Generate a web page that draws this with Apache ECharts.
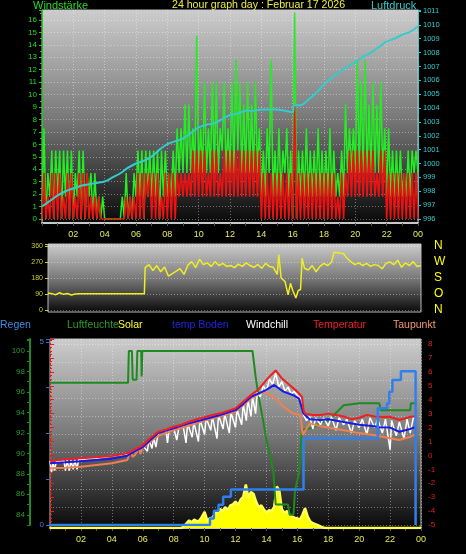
<!DOCTYPE html>
<html><head><meta charset="utf-8">
<script src="https://cdn.jsdelivr.net/npm/echarts@6/dist/echarts.min.js"></script>
<style>html,body{margin:0;padding:0;background:#000;}#c{width:466px;height:554px;}</style>
</head><body><div id="c"></div>
<script>
// ---------- Panel 1: wind (15-minute slots, max / min read per slot) ----------
const SLOT = 0.25;
const windGustHi = [7.3,3.7,5.5,5.5, 5.5,5.5,5.5,5.5, 3.7,5.5,5.5,3.7, 3.7,3.7,1.8,1.8, 0,0,0,0, 1.8,3.7,1.8,3.7,
  5.5,5.5,5.5,5.5, 5.5,5.5,5.5,5.5, 3.7,5.5,7.3,7.3, 9.2,9.2,7.3,14.7, 7.3,11,7.3,11, 11,7.3,11,7.3,
  11,12.8,11,9.2, 11,9.2,11,7.3, 5.5,7.3,12.8,5.5, 7.3,5.5,7.3,5.5, 16.6,5.5,5.5,7.3, 5.5,5.5,7.3,5.5,
  5.5,7.3,5.5,3.7, 5.5,9.2,7.3,7.3, 12.8,11,12.8,9.2, 11,9.2,11,7.3, 7.3,5.5,5.5,5.5, 3.7,5.5,5.5,5.5];
const windGustLo = [0,0,1.8,0, 1.8,0,1.8,0, 0,1.8,0,0, 1.8,0,0,0, 0,0,0,0, 0,0,0,0,
  1.8,1.8,0,1.8, 1.8,1.8,0,1.8, 1.8,1.8,1.8,3.7, 3.7,3.7,3.7,3.7, 3.7,3.7,3.7,3.7, 3.7,3.7,5.5,3.7,
  3.7,3.7,5.5,3.7, 3.7,3.7,3.7,3.7, 1.8,1.8,3.7,1.8, 1.8,1.8,3.7,1.8, 0,0,1.8,1.8, 1.8,1.8,1.8,1.8,
  1.8,1.8,1.8,1.8, 1.8,1.8,3.7,3.7, 3.7,3.7,3.7,3.7, 3.7,3.7,3.7,3.7, 1.8,1.8,1.8,1.8, 1.8,1.8,1.8,3.7];
const windAvgHi = [3.7,1.8,3.7,3.7, 3.7,1.8,3.7,3.7, 1.8,3.7,3.7,3.7, 1.8,1.8,1.8,0, 0,0,0,0, 0,1.8,1.8,1.8,
  3.7,3.7,3.7,3.7, 3.7,3.7,1.8,3.7, 3.7,3.7,3.7,3.7, 3.7,3.7,5.5,5.5, 5.5,5.5,3.7,5.5, 5.5,3.7,5.5,5.5,
  5.5,5.5,5.5,5.5, 5.5,5.5,5.5,5.5, 3.7,3.7,3.7,3.7, 3.7,3.7,3.7,3.7, 9.2,3.7,3.7,3.7, 3.7,3.7,3.7,3.7,
  3.7,3.7,3.7,1.8, 3.7,3.7,5.5,5.5, 5.5,5.5,5.5,5.5, 5.5,3.7,5.5,5.5, 3.7,3.7,3.7,3.7, 3.7,3.7,3.7,3.7];
const windAvgLo = [0,0,0,0, 0,0,0,0, 0,0,0,0, 0,0,0,0, 0,0,0,0, 0,0,0,0,
  0,0,0,1.8, 0,0,0,0, 0,0,0,1.8, 1.8,1.8,1.8,1.8, 1.8,1.8,1.8,1.8, 1.8,1.8,1.8,1.8,
  1.8,1.8,1.8,1.8, 1.8,1.8,1.8,1.8, 0,0,0,0, 0,0,0,0, 0,0,0,0, 0,0,0,0,
  0,0,0,0, 0,0,1.8,1.8, 1.8,1.8,1.8,1.8, 1.8,1.8,1.8,1.8, 0,0,0,0, 0,0,0,0];
const pressure = [[0,996.9],[0.5,997.3],[1,997.7],[1.5,998.0],[2,998.2],[2.5,998.4],[3,998.5],[3.5,998.6],[4,998.7],
  [4.5,999.0],[5,999.3],[5.5,999.7],[6,1000.0],[6.5,1000.2],[7,1000.5],[7.5,1001.0],[8,1001.4],[8.5,1001.6],
  [9,1001.8],[9.5,1002.2],[10,1002.6],[10.5,1002.8],[11,1002.9],[11.5,1003.2],[12,1003.5],[12.5,1003.6],
  [13,1003.8],[13.5,1003.8],[14,1003.9],[14.5,1003.9],[15,1003.9],[15.5,1003.8],[16,1003.7],[16.1,1004.2],
  [16.5,1004.2],[17,1004.6],[17.5,1005.1],[18,1005.7],[18.5,1006.2],[19,1006.6],[19.5,1007.0],[20,1007.3],
  [20.5,1007.7],[21,1008.0],[21.5,1008.4],[22,1008.8],[22.5,1009.0],[23,1009.3],[23.5,1009.5],[24,1009.9]];

// ---------- Panel 2: wind direction ----------
const windDirection = [[0,95],[0.25,92],[0.5,86],[0.75,97],[1,88],[1.25,93],[1.5,84],[1.75,90],[2,92],[6.2,92],
  [6.25,238],[6.5,255],[6.75,222],[7,250],[7.25,215],[7.5,242],[7.75,190],[8,205],[8.25,218],[8.5,232],[8.75,200],
  [9,252],[9.25,272],[9.5,238],[9.75,285],[10,255],[10.25,265],[10.5,245],[10.75,272],[11,250],[11.25,262],
  [11.5,245],[11.75,250],[12,238],[12.25,258],[12.5,245],[12.75,265],[13,250],[13.25,240],[13.5,256],[13.75,235],
  [14,262],[14.25,245],[14.5,240],[14.75,200],[14.85,312],[15,180],[15.25,160],[15.45,85],[15.6,150],[15.75,110],
  [15.95,68],[16.1,110],[16.25,115],[16.35,292],[16.5,235],[16.75,225],[17,250],[17.25,215],[17.5,245],[17.75,262],
  [18,250],[18.25,270],[18.4,325],[18.5,332],[18.75,320],[19,318],[19.25,290],[19.5,270],[19.75,255],[20,265],
  [20.25,250],[20.5,262],[20.75,245],[21,255],[21.25,250],[21.5,232],[21.75,262],[22,270],[22.25,255],[22.5,280],
  [22.75,240],[23,265],[23.25,250],[23.5,272],[23.75,245],[24,250]];
const dirLabels = {0:'N', 90:'O', 180:'S', 270:'W', 360:'N'};

// ---------- Panel 3 ----------
const temperature = [[0,-0.4],[1,-0.28],[2,-0.21],[3,-0.14],[4,-0.04],[5,0.15],[5.5,0.44],[6,0.75],[6.5,1.27],[7,1.7],
  [7.5,1.85],[8,2.06],[8.5,2.2],[9,2.42],[9.5,2.6],[10,2.74],[10.5,2.9],[11,3.02],[11.5,3.2],[12,3.38],[12.5,3.86],
  [13,4.34],[13.5,4.75],[14,5.42],[14.3,5.78],[14.6,6.1],[15,5.54],[15.5,5.06],[16,4.58],[16.3,4.2],[16.4,3.26],
  [16.5,3.0],[17,2.9],[17.5,2.9],[18,3.0],[18.5,2.9],[19,2.8],[19.5,2.6],[20,2.7],[20.5,2.9],[21,2.8],[21.5,2.75],
  [22,2.78],[22.6,2.54],[23.3,2.78],[23.6,2.8]];
const dewPoint = [[0,-0.93],[1,-0.88],[2,-0.81],[3,-0.69],[4,-0.57],[5,-0.33],[5.2,0.3],[5.35,-0.1],[5.5,0.03],
  [5.75,0.6],[5.85,0.1],[6,0.55],[6.5,1.0],[7,1.4],[8,1.8],[9,2.15],[10,2.5],[11,2.8],[12,3.15],[12.5,3.6],
  [13,4.1],[13.5,4.4],[13.9,4.58],[14.6,4.1],[15.1,3.5],[15.7,3.02],[16.2,2.9],[16.35,1.47],[16.8,2.3],[17.5,2.1],
  [18,2.0],[19,1.8],[20,1.6],[21,1.45],[21.5,1.34],[22.6,1.1],[23.3,1.34],[23.6,1.47]];
const soilTemp = [[0,-0.57],[1,-0.5],[2,-0.42],[3,-0.33],[4,-0.24],[5,-0.02],[5.5,0.3],[6,0.6],[7,1.6],[8,1.95],
  [9,2.3],[10,2.6],[11,2.9],[12,3.25],[12.5,3.7],[13,4.2],[13.5,4.45],[14,4.7],[14.5,5.06],[15.1,4.58],[15.7,4.34],
  [16.1,4.1],[16.4,3.0],[16.8,2.6],[17.5,2.55],[18,2.6],[19,2.4],[20,2.2],[21,2.1],[21.3,2.02],[22,2.0],[22.6,1.7],
  [23.3,1.9],[23.6,2.02]];
const windChill = [[0,-0.4],[0.1,-1.2],[0.2,-0.5],[0.3,-1.1],[0.4,-0.45],[0.9,-0.4],[1,-1.1],[1.1,-0.35],[1.25,-1.1],
  [1.35,-0.35],[1.5,-1.0],[1.6,-0.3],[1.75,-1.0],[1.85,-0.3],[3,-0.2],[5,0.1],[6,0.7],[6.3,0.3],[6.4,1.1],[6.6,0.5],
  [6.7,1.3],[6.85,0.6],[7,1.6],[7.5,1.8],[7.6,0.9],[7.7,1.8],[8,2.0],[8.2,1.1],[8.35,2.1],[8.6,2.2],[8.8,0.9],
  [8.9,2.3],[9.2,1.3],[9.3,2.4],[9.6,1.0],[9.7,2.6],[10,1.5],[10.1,2.7],[10.4,1.8],[10.5,2.8],[10.8,1.2],[10.9,2.9],
  [11.2,1.9],[11.3,3.0],[11.6,1.6],[11.7,3.1],[12,2.0],[12.1,3.3],[12.4,2.2],[12.5,3.7],[12.7,2.5],[12.8,4.0],
  [13,2.8],[13.1,4.2],[13.3,3.0],[13.4,4.5],[13.6,4.2],[13.8,5.0],[14,4.6],[14.2,5.5],[14.4,5.1],[14.6,5.9],
  [14.8,4.9],[15,5.3],[15.2,4.6],[15.4,4.9],[15.6,4.4],[15.8,4.6],[16,4.3],[16.3,4.0],[16.4,2.9],[16.6,2.5],
  [16.8,2.8],[17,1.9],[17.2,2.7],[17.5,2.2],[17.7,2.7],[18,2.1],[18.2,2.8],[18.5,1.8],[18.7,2.7],[19,2.2],[19.2,2.6],
  [19.5,1.6],[19.7,2.5],[20,2.0],[20.2,2.6],[20.5,1.5],[20.7,2.7],[21,2.0],[21.2,2.6],[21.5,1.6],[21.7,2.6],
  [22,0.4],[22.1,2.5],[22.4,1.4],[22.6,2.4],[22.9,1.2],[23.1,2.6],[23.3,1.6],[23.5,2.7],[23.6,2.7]];
const humidity = [[0,96.9],[5.05,96.9],[5.1,100],[5.3,100],[5.35,97.2],[5.6,97.2],[5.65,100],[5.9,100],[5.93,97.5],
  [5.97,100],[13.1,100],[13.3,97.5],[13.5,95.5],[13.75,93.5],[14,91.3],[14.3,89.4],[14.45,88.1],[14.6,85],[15.4,85],
  [15.5,84],[15.75,84],[15.85,86.4],[16.1,88],[16.3,92.3],[17,92.5],[17.5,93],[18,93.2],[19,94.7],[20,94.9],
  [21.3,94.9],[21.4,94.2],[23.3,94.2],[23.35,94.9],[23.7,94.9]];
const rain = [[0,0],[10.35,0],[10.35,0.18],[10.6,0.18],[10.6,0.39],[10.9,0.39],[10.9,0.55],[11.2,0.55],[11.2,0.77],
  [11.7,0.77],[11.7,0.97],[16.4,0.97],[16.4,2.37],[21.2,2.37],[21.2,3.19],[21.8,3.19],[21.8,3.32],[21.95,3.32],
  [21.95,3.64],[22.15,3.64],[22.15,3.96],[22.7,3.96],[22.7,4.2],[23.65,4.2],[23.65,0]];
const solar = [[0,0],[8.5,0],[8.67,10],[8.83,25],[9,40],[9.17,30],[9.33,45],[9.5,35],[9.67,40],[9.83,60],[10,85],
  [10.17,40],[10.33,50],[10.5,55],[10.67,75],[10.83,85],[11,100],[11.17,90],[11.33,110],[11.5,95],[11.67,120],
  [11.83,125],[12,140],[12.17,120],[12.33,150],[12.5,165],[12.67,230],[12.83,160],[13,190],[13.17,180],[13.33,140],
  [13.5,110],[13.67,120],[13.83,100],[14,80],[14.17,95],[14.33,90],[14.5,110],[14.67,220],[14.83,200],[15,100],
  [15.17,80],[15.33,90],[15.5,70],[15.67,60],[15.83,55],[16,50],[16.17,45],[16.33,70],[16.5,105],[16.67,60],
  [16.83,35],[17,25],[17.17,20],[17.33,15],[17.5,8],[17.67,3],[17.83,0],[24,0]];

const legendRow = [
  {text:'Regen', x:0, color:'#3a8ee6'},
  {text:'Luftfeuchte', x:67, color:'#2a9a2a'},
  {text:'Solar', x:118, color:'#ffff33'},
  {text:'temp Boden', x:172, color:'#2222dd'},
  {text:'Windchill', x:246, color:'#ffffff'},
  {text:'Temperatur', x:313, color:'#ee2222'},
  {text:'Taupunkt', x:393, color:'#f49a6a'}
];

// ---------- helpers ----------
function zig(hi, lo) {
  const out = [];
  for (let i = 0; i < hi.length; i++) {
    const t = i * SLOT;
    out.push([t, lo[i]]);
    out.push([t + SLOT / 2, hi[i]]);
  }
  out.push([24, lo[lo.length - 1]]);
  return out;
}
const FONT = 'Liberation Sans';
const grad = () => ({type:'linear', x:0, y:0, x2:0, y2:1,
  colorStops:[{offset:0,color:'#cdcdcd'},{offset:0.5,color:'#7a7a7a'},{offset:1,color:'#080808'}]});
const dotted = {show:true, lineStyle:{color:'rgba(255,255,255,0.38)', type:[1,2], width:1}};
const isInt = v => Math.abs(v - Math.round(v)) < 1e-6;
const hourFmt = v => (v === 0 ? '' : String(Math.round(v) % 24).padStart(2, '0'));
const hidden = {show:false};

const grids = [
  {left:42, top:10, width:376, height:213, show:true, backgroundColor:grad(), borderColor:'#bbbbbb', borderWidth:1},
  {left:42, top:10, width:376, height:209},
  {left:48, top:244, width:373, height:68, show:true, backgroundColor:grad(), borderColor:'#bbbbbb', borderWidth:1},
  {left:48, top:244, width:373, height:66},
  {left:50, top:339, width:371, height:189, show:true, backgroundColor:grad(), borderColor:'#bbbbbb', borderWidth:1},
  {left:50, top:339, width:371, height:186}
];

function xAx(gi, labels, split) {
  return {gridIndex:gi, type:'value', min:0, max:24, interval:2,
    axisLine:{show:labels, lineStyle:{color:'#c8c8c8', width:2}},
    axisTick:{show:labels, length:3, lineStyle:{color:'#555'}},
    minorTick:{show:labels, splitNumber:2, length:3, lineStyle:{color:'#555'}},
    axisLabel:{show:labels, color:'#e8e85a', fontSize:9, fontFamily:FONT, margin:7, formatter:hourFmt},
    splitLine: split ? dotted : hidden};
}

const option = {
  backgroundColor:'#000',
  animation:false,
  title: [
    {text:'Windstärke', left:33, top:0, padding:0, textStyle:{color:'#22dd22', fontSize:11, fontWeight:'normal', fontFamily:FONT}},
    {text:'24 hour graph day : Februar 17 2026', left:172, top:0, padding:0, textStyle:{color:'#eeee44', fontSize:10.6, fontWeight:'normal', fontFamily:FONT}},
    {text:'Luftdruck', left:371, top:0, padding:0, textStyle:{color:'#33cccc', fontSize:11, fontWeight:'normal', fontFamily:FONT}}
  ].concat(legendRow.map(l => ({text:l.text, left:l.x, top:320, padding:0,
    textStyle:{color:l.color, fontSize:10.5, fontWeight:'normal', fontFamily:FONT}}))),
  grid: grids,
  xAxis: [xAx(0,true,true), xAx(1,false,false), xAx(2,false,false), xAx(3,false,false), xAx(4,true,true), xAx(5,false,false)],
  yAxis: [
    {gridIndex:0, type:'value', min:0, max:1, show:false},
    {gridIndex:1, type:'value', min:0, max:16.8, interval:1, position:'left', offset:1,
      axisLine:{show:true, lineStyle:{color:'#22cc22'}},
      axisTick:{show:true, length:3, lineStyle:{color:'#22cc22'}},
      minorTick:{show:true, splitNumber:2, length:2, lineStyle:{color:'#22cc22'}},
      axisLabel:{color:'#22dd22', fontSize:8, fontFamily:FONT, margin:4, formatter:v => isInt(v) ? Math.round(v) : ''},
      splitLine:dotted},
    {gridIndex:1, type:'value', min:996, max:1011.07, interval:1, position:'right',
      axisLine:{show:true, lineStyle:{color:'#33cccc'}},
      axisTick:{show:true, length:3, lineStyle:{color:'#33cccc'}},
      axisLabel:{color:'#33cccc', fontSize:7.5, fontFamily:FONT, margin:5, formatter:v => isInt(v) ? Math.round(v) : ''},
      splitLine:hidden},
    {gridIndex:2, type:'value', min:0, max:1, show:false},
    {gridIndex:3, type:'value', min:0, max:371, interval:90, position:'left',
      axisLine:{show:false},
      axisTick:{show:true, length:3, lineStyle:{color:'#cccc33'}},
      axisLabel:{color:'#cccc33', fontSize:7, fontFamily:FONT, margin:5, formatter:v => (v % 90 === 0 ? v : '')},
      splitLine:dotted},
    {gridIndex:3, type:'value', min:0, max:371, interval:90, position:'right',
      axisLine:{show:false}, axisTick:{show:false}, splitLine:hidden,
      axisLabel:{color:'#ffff00', fontSize:12, fontFamily:FONT, margin:13, formatter:v => dirLabels[v] || ''}},
    {gridIndex:4, type:'value', min:0, max:1000, show:false},
    {gridIndex:5, type:'value', min:-5, max:8.36, interval:1, position:'right',
      axisLine:{show:true, lineStyle:{color:'#dd2222', type:[2,2]}},
      axisTick:{show:true, length:4, lineStyle:{color:'#dd2222'}},
      minorTick:{show:true, splitNumber:4, length:2, lineStyle:{color:'#dd2222'}},
      axisLabel:{color:'#dd2222', fontSize:8, fontFamily:FONT, margin:7, formatter:v => isInt(v) ? Math.round(v) : ''},
      splitLine:hidden},
    {gridIndex:5, type:'value', min:83, max:101.17, interval:1, position:'left', offset:20,
      axisLine:{show:true, lineStyle:{color:'#1f8a1f', width:2}},
      axisTick:{show:true, length:3, lineStyle:{color:'#1f8a1f'}},
      axisLabel:{color:'#2a9a2a', fontSize:8, fontFamily:FONT, margin:5,
        formatter:v => (isInt(v) && Math.round(v) % 2 === 0 && v >= 84 && v <= 100) ? Math.round(v) : ''},
      splitLine:hidden},
    {gridIndex:5, type:'value', min:0, max:5.08, interval:1.25, position:'left', offset:0,
      axisLine:{show:false},
      axisTick:{show:true, length:4, inside:false, lineStyle:{color:'#3a6fcc'}},
      axisLabel:{color:'#4a80dd', fontSize:8, fontFamily:FONT, margin:6,
        formatter:v => (Math.abs(v) < 1e-6 ? '0' : Math.abs(v - 5) < 1e-6 ? '5' : '')},
      splitLine:hidden},
    {gridIndex:5, type:'value', min:0, max:10.28, interval:1, show:true,
      axisLine:hidden, axisTick:hidden, axisLabel:hidden, splitLine:dotted}
  ],
  series: [
    {type:'line', xAxisIndex:1, yAxisIndex:1, data:zig(windGustHi, windGustLo), symbol:'none',
      lineStyle:{color:'#22ee22', width:1.5}, z:3},
    {type:'line', xAxisIndex:1, yAxisIndex:1, data:zig(windAvgHi, windAvgLo), symbol:'none',
      lineStyle:{color:'#ee1111', width:1.6}, z:4},
    {type:'line', xAxisIndex:1, yAxisIndex:2, data:pressure, symbol:'none', smooth:0.3,
      lineStyle:{color:'#33cccc', width:2}, z:5},
    {type:'line', xAxisIndex:3, yAxisIndex:4, data:windDirection, symbol:'none',
      lineStyle:{color:'#eeee22', width:1.5}, z:3},
    {type:'line', xAxisIndex:4, yAxisIndex:6, data:solar, symbol:'none',
      lineStyle:{color:'#ffff55', width:2.5}, areaStyle:{color:'#ffff00', opacity:1}, z:2},
    {type:'line', xAxisIndex:5, yAxisIndex:8, data:humidity, symbol:'none',
      lineStyle:{color:'#1f8a1f', width:2}, z:3},
    {type:'line', xAxisIndex:5, yAxisIndex:7, data:windChill, symbol:'none',
      lineStyle:{color:'#ffffff', width:1.5}, z:4},
    {type:'line', xAxisIndex:5, yAxisIndex:7, data:dewPoint, symbol:'none',
      lineStyle:{color:'#f08050', width:2}, z:5},
    {type:'line', xAxisIndex:5, yAxisIndex:7, data:soilTemp, symbol:'none',
      lineStyle:{color:'#1a1ae6', width:2}, z:6},
    {type:'line', xAxisIndex:5, yAxisIndex:7, data:temperature, symbol:'none',
      lineStyle:{color:'#ee2020', width:2}, z:7},
    {type:'line', xAxisIndex:5, yAxisIndex:9, data:rain, symbol:'none',
      lineStyle:{color:'#2f80ed', width:2.5}, z:8}
  ]
};
echarts.init(document.getElementById('c'), null, {renderer:'canvas'}).setOption(option);
</script></body></html>
